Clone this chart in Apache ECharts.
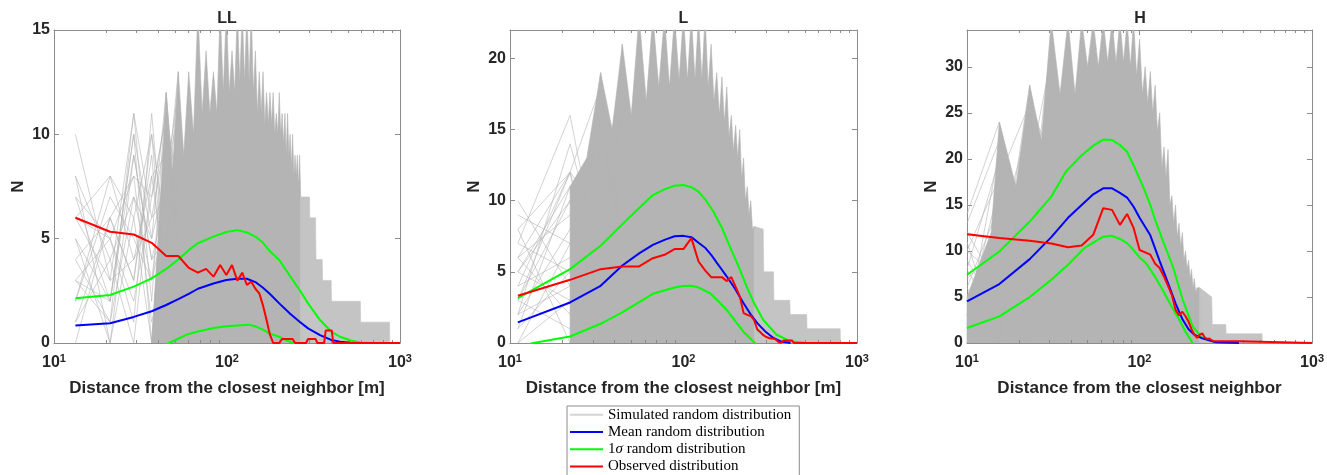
<!DOCTYPE html>
<html>
<head>
<meta charset="utf-8">
<title>Distance from the closest neighbor</title>
<script src="https://cdn.jsdelivr.net/npm/echarts@6/dist/echarts.min.js"></script>
<style>
  html, body { margin: 0; padding: 0; background: #fff; }
  #main { width: 1327px; height: 475px; }
</style>
</head>
<body>
<div id="main"></div>
<script>
// ---------- values ----------
var panelTitles = ['LL', 'L', 'H'];
var xNames = ['Distance from the closest neighbor [m]', 'Distance from the closest neighbor [m]', 'Distance from the closest neighbor'];
var yMaxes = [15, 22, 34];

// LL
var llLatticeBins = [13.3, 21.1, 28.9, 36.7, 44.5, 52.3];
var llLattice = [
  [10, 3, 11, 2, 12, 5], [8, 0, 9, 4, 7, 13], [7, 5, 1, 11, 3, 9], [6, 8, 4, 6, 10, 2],
  [5, 2, 10, 0, 8, 11], [4, 6, 3, 9, 1, 7], [3, 1, 7, 5, 12, 4], [2, 7, 5, 3, 6, 10],
  [1, 4, 0, 8, 9, 6], [0, 6, 8, 1, 4, 12], [5, 0, 6, 10, 2, 8], [3, 5, 2, 7, 11, 3],
  [7, 2, 9, 4, 5, 13], [2, 8, 6, 0, 10, 5], [6, 3, 4, 8, 3, 9], [4, 1, 11, 6, 7, 1],
  [8, 4, 7, 3, 9, 6], [1, 6, 3, 10, 5, 11], [6, 5, 8, 7, 11, 7], [3, 2, 10, 5, 8, 12]
];
var llSimTop = [
  [36.7, 0], [40.6, 6], [44.5, 12], [48.4, 8], [52.3, 13], [56.2, 9], [60.1, 13], [64, 10],
  [67.9, 16], [71.8, 11], [75.7, 14], [79.6, 11], [83.5, 13], [87.4, 11], [91.3, 16], [95.2, 12],
  [99.1, 16], [103, 12], [106.9, 14], [110.8, 12], [114.7, 16], [118.6, 12.5], [122.5, 16], [126.4, 12.5],
  [130.3, 16], [134.2, 12.5], [138.1, 16], [142, 12], [145.9, 14], [149.8, 11], [153.7, 13], [157.6, 11],
  [161.5, 13], [165.4, 10.5], [169.3, 12], [173.2, 10.5], [177.1, 12], [181, 10.5], [184.9, 12], [188.8, 10],
  [192.7, 11], [196.6, 10], [200.5, 12], [204.4, 10], [208.3, 11], [212.2, 9.5], [216.1, 11], [220, 9],
  [223.9, 11], [227.8, 9], [231.7, 10], [235.6, 8.5], [239.5, 10], [243.4, 8], [247.3, 9], [251.2, 8],
  [255.1, 9], [259, 7.5], [262.9, 9], [266.8, 7], [266.8, 0]
];
var llSimTail = [
  [266.8, 0], [266.8, 7], [300, 7], [301, 6], [325, 6], [327, 4], [355, 4], [357, 3],
  [400, 3], [402, 2], [590, 2], [592, 1], [870, 1], [872, 0]
];
var llMean = [
  [13.3, 0.84], [21.1, 0.95], [28.9, 1.25], [36.7, 1.52], [44.5, 1.82], [52.3, 2.1], [60.1, 2.35],
  [67.9, 2.6], [83.5, 2.85], [99.1, 3.02], [114.7, 3.08], [130.3, 3.08], [145.9, 2.92], [161.5, 2.65],
  [177.1, 2.35], [200.5, 1.9], [231.7, 1.4], [262.9, 1.02], [294.1, 0.7], [345, 0.38], [400, 0.15],
  [450, 0.06], [520, 0.01], [700, 0]
];
var llSigmaUp = [
  [13.3, 2.14], [21.1, 2.3], [28.9, 2.7], [36.7, 3.1], [44.5, 3.55], [52.3, 4.0], [60.1, 4.45],
  [67.9, 4.78], [83.5, 5.1], [99.1, 5.32], [114.7, 5.41], [130.3, 5.3], [145.9, 5.1], [161.5, 4.8],
  [177.1, 4.4], [200.5, 3.98], [231.7, 3.2], [262.9, 2.54], [294.1, 1.9], [345, 1.1], [400, 0.55],
  [450, 0.3], [520, 0.12], [590, 0.02], [700, 0]
];
var llSigmaLo = [
  [36.7, -0.3], [46.4, 0], [58.5, 0.4], [67.9, 0.55], [83.5, 0.72], [99.1, 0.8], [114.7, 0.84],
  [132.8, 0.88], [145.9, 0.8], [161.5, 0.64], [177.1, 0.45], [200, 0.3], [240, 0], [262.9, -0.15]
];
var llObserved = [
  [13.3, 6.0], [21.1, 5.33], [28.9, 5.2], [36.7, 4.8], [44.5, 4.17], [52.3, 4.17], [60.1, 3.6],
  [67.9, 3.37], [75.7, 3.55], [83.5, 3.18], [91.3, 3.74], [99.1, 3.26], [106.9, 3.74], [114.7, 2.99],
  [122.5, 3.37], [130.3, 2.78], [138.1, 2.94], [145.9, 2.6], [153.7, 2.38], [161.5, 1.8], [169.3, 1.1],
  [177.1, 0.4], [184.9, 0], [200.5, 0], [208.3, 0.19], [239.5, 0.19], [247.3, 0], [286.3, 0],
  [294.1, 0.19], [325.3, 0.19], [333.1, 0], [364.3, 0], [372.1, 0.6], [403.3, 0.6], [411.1, 0], [1000, 0]
];

// L
var lLatticeBins = [11.1, 22.2, 33.3, 44.4];
var lLattice = [
  [10, 4, 12, 6], [8, 12, 3, 15], [8, 0, 14, 9], [7, 16, 5, 12], [6, 2, 19, 4],
  [6, 9, 1, 21], [5, 11, 7, 2], [5, 3, 10, 14], [4, 12, 2, 17], [4, 6, 16, 8],
  [3, 10, 4, 11], [3, 1, 9, 19], [2, 8, 13, 5], [2, 14, 6, 10], [1, 5, 11, 3],
  [1, 11, 0, 13], [0, 7, 15, 7], [0, 3, 8, 16], [3, 12, 18, 1], [7, 5, 2, 12],
  [9, 7, 11, 18], [5, 10, 6, 9], [2, 4, 17, 13], [6, 12, 9, 20]
];
var lSimTop = [
  [22.2, 0], [22.2, 11], [27.7, 13], [33.3, 19], [38.8, 15], [44.4, 21], [50, 16], [55.5, 23],
  [61, 17], [66.6, 23], [72, 18], [77.7, 23], [83, 18], [88.8, 23], [94.3, 18.5], [99.9, 23],
  [105.4, 18.5], [111, 23], [116.5, 18.5], [122.1, 23], [127.6, 18.5], [133.2, 23], [138.7, 18], [144.3, 21],
  [149.8, 17], [155.4, 19], [161, 16], [166.5, 18.7], [172, 15.5], [177.6, 18], [183, 14.5], [188.7, 16],
  [194, 13.5], [199.8, 15.3], [205.3, 13], [210.9, 15], [216.4, 11.5], [222, 13], [227.5, 10], [233.1, 11],
  [238.6, 9], [244.2, 10], [249.7, 8], [255.3, 8.2], [255.3, 0]
];
var lSimTail = [
  [255.3, 0], [255.3, 8.2], [288, 8], [290, 5], [330, 5], [332, 3],
  [410, 3], [412, 2], [513, 2], [515, 1], [800, 1], [802, 0]
];
var lMean = [
  [11.1, 1.45], [22.2, 2.85], [33.3, 4.02], [44.4, 5.45], [55.5, 6.3], [66.6, 6.9], [77.7, 7.25],
  [88.8, 7.5], [99.9, 7.53], [111, 7.44], [122.1, 7.05], [133.2, 6.7], [144.3, 6.2], [155.4, 5.65],
  [166.5, 5.15], [177.6, 4.67], [188.7, 4.2], [199.8, 3.75], [210.9, 3.25], [222, 2.8], [244.2, 2.0],
  [266.4, 1.4], [277.5, 1.17], [299.7, 0.75], [330, 0.35], [366, 0.1], [414, 0]
];
var lSigmaUp = [
  [11.1, 3.16], [22.2, 5.19], [33.3, 6.83], [49.2, 8.88], [66.6, 10.4], [77.7, 10.8], [88.8, 11.05],
  [99.9, 11.1], [111, 10.95], [122.1, 10.64], [133.2, 10.1], [148.6, 9.24], [166.5, 8.1], [185, 6.78],
  [210.9, 5.2], [231, 3.97], [255.3, 2.8], [288, 1.63], [344, 0.58], [400, 0.2], [430, 0.11], [513, 0]
];
var lSigmaLo = [
  [11.1, -0.3], [13.6, 0], [22.2, 0.46], [33.3, 1.35], [44.4, 2.15], [66.6, 3.46], [88.8, 3.9],
  [99.9, 4.0], [111, 4.02], [122.1, 3.9], [142, 3.51], [160, 2.9], [177, 2.34], [200, 1.5],
  [221, 0.81], [258, 0], [280, -0.4]
];
var lObserved = [
  [11.1, 3.32], [22.2, 4.44], [33.3, 5.19], [44.4, 5.38], [55.5, 5.38], [66.6, 5.96], [77.7, 6.2],
  [88.8, 6.6], [99.9, 6.6], [111, 7.37], [122.1, 5.73], [133.2, 5.1], [144.3, 4.63], [155.4, 4.63],
  [166.5, 4.63], [177.6, 4.35], [188.7, 4.63], [199.8, 3.95], [210.9, 3.3], [222, 2.1], [233.1, 1.98],
  [244.2, 1.9], [255.3, 1.6], [266.4, 0.95], [277.5, 0.75], [288.6, 0.55], [299.7, 0.42], [310.8, 0.35],
  [321.9, 0.32], [333, 0.3], [344.1, 0.2], [355.2, 0.04], [366.3, 0.04], [377.4, 0.18], [421.8, 0.18],
  [432.9, 0], [1000, 0]
];

// H
var hLatticeBins = [10, 15.4, 23.1, 30.8];
var hLattice = [
  [14, 24, 10, 30], [12, 6, 28, 14], [13, 22, 4, 25], [11, 0, 18, 8], [10, 18, 26, 20],
  [9, 3, 12, 33], [8, 20, 6, 16], [7, 10, 22, 4], [6, 15, 0, 27], [5, 1, 16, 11],
  [4, 12, 24, 18], [3, 8, 2, 22], [2, 21, 14, 6], [1, 5, 20, 12], [0, 13, 8, 28],
  [6, 0, 25, 2], [10, 7, 11, 24], [3, 17, 5, 9], [8, 2, 19, 31], [12, 11, 1, 15]
];
var hSimTop = [
  [10, 0], [10, 5], [13.8, 12], [15.4, 24], [19.2, 17], [23.1, 28], [27, 22], [30.8, 35],
  [34.6, 27], [38.5, 35], [42.3, 27], [46.2, 35], [50, 30], [53.9, 35], [57.7, 30], [61.6, 35],
  [65.4, 30.5], [69.3, 35], [73.1, 30.5], [77, 35], [80.8, 30.5], [84.7, 35], [88.5, 30], [92.4, 35],
  [96.2, 29], [100.1, 33], [104, 27], [107.8, 30], [111.6, 26], [115.5, 29.5], [119.3, 25], [123.2, 28],
  [127, 23], [130.9, 25], [134.7, 19], [138.6, 21.3], [142.4, 18], [146.3, 21], [150.1, 15], [154, 16],
  [157.8, 13], [161.7, 15], [165.5, 11.5], [169.4, 13], [173.2, 10.5], [177.1, 12], [181, 9], [184.8, 10],
  [188.6, 8], [192.5, 9], [196.3, 7], [200.2, 8], [204, 6], [207.9, 7], [211.7, 5.5], [215.6, 6],
  [223.3, 6], [223.3, 0]
];
var hSimTail = [
  [223.3, 0], [223.3, 6], [262, 5], [264, 2], [316, 2], [318, 1], [513, 1], [515, 0]
];
var hMean = [
  [10, 4.51], [15.4, 6.4], [23.1, 9.11], [30.8, 11.5], [38.5, 13.6], [46.2, 15.0], [53.9, 16.15],
  [61.6, 16.8], [69.3, 16.8], [77, 16.3], [84.7, 15.8], [92.4, 14.8], [100.1, 13.6], [115.5, 11.7],
  [130.9, 8.9], [146.3, 6.5], [161.7, 4.3], [177.1, 2.6], [192.5, 1.5], [207.9, 0.9], [231, 0.5],
  [277, 0.07], [377, 0]
];
var hSigmaUp = [
  [10, 7.41], [15.4, 9.94], [23.1, 13.19], [30.8, 15.9], [37.4, 18.61], [46.2, 20.4], [54.6, 21.5],
  [61.6, 22.1], [69.3, 22.05], [77, 21.5], [84.7, 20.78], [92.4, 19.3], [103.7, 17.2], [115.5, 15.0],
  [124, 13.23], [138.6, 10.8], [156, 8.31], [178, 4.7], [203, 1.8], [232, 0.54], [277, 0.07], [377, 0]
];
var hSigmaLo = [
  [10, 1.63], [15.4, 2.89], [23.1, 4.99], [30.8, 6.87], [38.5, 8.5], [47.8, 10.3], [61.6, 11.55],
  [69.3, 11.64], [77, 11.3], [84.7, 10.85], [92.4, 10.1], [100.1, 9.3], [109, 8.68], [122, 7.3],
  [136, 5.78], [153, 4.0], [170, 2.53], [185, 1.2], [203, 0], [215, -0.8]
];
var hObserved = [
  [10, 11.82], [15.4, 11.4], [23.1, 11.1], [30.8, 10.8], [38.5, 10.4], [46.2, 10.6], [53.9, 11.75],
  [61.6, 14.64], [69.3, 14.46], [77, 12.83], [84.7, 14.02], [92.4, 12.5], [100.1, 10.1], [107.8, 9.85],
  [115.5, 9.6], [123.2, 8.6], [130.9, 8.15], [138.6, 7.2], [146.3, 6.2], [154, 5.2], [161.7, 3.6],
  [169.4, 3.0], [177.1, 3.4], [184.8, 2.9], [192.5, 2.3], [200.2, 1.5], [207.9, 0.9], [215.6, 0.55],
  [223.3, 0.9], [231, 1.05], [238.7, 0.6], [246.4, 0.45], [254.1, 0.5], [261.8, 0.3], [269.5, 0.2],
  [377, 0.2], [385, 0], [1000, 0]
];

var panels = [
  { bins: llLatticeBins, lattice: llLattice, simTop: llSimTop, simTail: llSimTail, mean: llMean, up: llSigmaUp, lo: llSigmaLo, obs: llObserved },
  { bins: lLatticeBins, lattice: lLattice, simTop: lSimTop, simTail: lSimTail, mean: lMean, up: lSigmaUp, lo: lSigmaLo, obs: lObserved },
  { bins: hLatticeBins, lattice: hLattice, simTop: hSimTop, simTail: hSimTail, mean: hMean, up: hSigmaUp, lo: hSigmaLo, obs: hObserved }
];

// minor log ticks (20..90, 200..900), placed on a helper axis running in log10 units
var minorTickValues = [20, 30, 40, 50, 60, 70, 80, 90, 200, 300, 400, 500, 600, 700, 800, 900];

// ---------- chart ----------
var SIM = 'Simulated random distribution';
var MEAN = 'Mean random distribution';
var SIGMA = '1σ random distribution';
var OBS = 'Observed distribution';

var textCol = '#262626';
var axisCol = '#8c8c8c';
var grayCol = '#b4b4b4';
var tailCol = '#c4c4c4';
var font = 'Liberation Sans';

var grids = [
  { left: 54, top: 30, width: 346, height: 313 },
  { left: 510, top: 30, width: 347, height: 313 },
  { left: 967, top: 30, width: 346, height: 313 }
];

var xAxes = [], yAxes = [], series = [], graphics = [];
var minorLog = minorTickValues.map(function (v) { return Math.log10(v); });

grids.forEach(function (g, i) {
  var tick = { show: true, inside: true, length: 5, lineStyle: { color: axisCol, width: 1 } };
  var line = { show: true, onZero: false, lineStyle: { color: axisCol, width: 1 } };
  // 4i: bottom log axis, 4i+1: top log axis, 4i+2 / 4i+3: minor tick helpers
  xAxes.push({
    gridIndex: i, type: 'log', logBase: 10, min: 10, max: 1000, position: 'bottom',
    name: xNames[i], nameLocation: 'middle', nameGap: 37,
    nameTextStyle: { color: textCol, fontFamily: font, fontWeight: 'bold', fontSize: 17 },
    axisLine: line, axisTick: tick, splitLine: { show: false },
    axisLabel: {
      margin: 10, color: textCol,
      formatter: function (v) { return '{b|10}{s|' + Math.round(Math.log10(v)) + '}'; },
      rich: {
        b: { fontFamily: font, fontWeight: 'bold', fontSize: 16, color: textCol },
        s: { fontFamily: font, fontWeight: 'bold', fontSize: 11, color: textCol, verticalAlign: 'top', padding: [0, 0, 8, 0] }
      }
    }
  });
  xAxes.push({
    gridIndex: i, type: 'log', logBase: 10, min: 10, max: 1000, position: 'top',
    axisLine: line, axisTick: tick, axisLabel: { show: false }, splitLine: { show: false }
  });
  ['bottom', 'top'].forEach(function (pos) {
    xAxes.push({
      gridIndex: i, type: 'value', min: 1, max: 3, position: pos, z: 3,
      axisLine: { show: false, onZero: false },
      axisTick: { show: true, inside: true, length: 3, customValues: minorLog, lineStyle: { color: axisCol, width: 1 } },
      axisLabel: { show: false }, splitLine: { show: false }
    });
  });
  yAxes.push({
    gridIndex: i, type: 'value', min: 0, max: yMaxes[i], interval: 5, position: 'left',
    name: 'N', nameLocation: 'middle', nameGap: 27,
    nameTextStyle: { color: textCol, fontFamily: font, fontWeight: 'bold', fontSize: 17 },
    axisLine: line, axisTick: tick, splitLine: { show: false },
    axisLabel: {
      margin: 4, color: textCol, fontFamily: font, fontWeight: 'bold', fontSize: 16,
      showMaxLabel: yMaxes[i] % 5 === 0
    }
  });
  yAxes.push({
    gridIndex: i, type: 'value', min: 0, max: yMaxes[i], interval: 5, position: 'right',
    axisLine: line, axisTick: tick, splitLine: { show: false }, axisLabel: { show: false }
  });

  graphics.push({
    type: 'text', x: g.left + g.width / 2, y: 19,
    style: { text: panelTitles[i], fill: textCol, font: 'bold 16px "Liberation Sans"', align: 'center', verticalAlign: 'middle' }
  });

  var p = panels[i];
  function mk(name, data, color, width, extra) {
    var s = {
      type: 'line', name: name, xAxisIndex: 4 * i, yAxisIndex: 2 * i, data: data,
      symbol: 'none', showSymbol: false, silent: true, animation: false, clip: true,
      lineStyle: { color: color, width: width }, itemStyle: { color: color }
    };
    for (var k in extra) s[k] = extra[k];
    return s;
  }
  // simulated runs: sparse lines on the left, dense mass as a filled envelope
  p.lattice.forEach(function (row) {
    series.push(mk(SIM, row.map(function (v, j) { return [p.bins[j], v]; }), grayCol, 0.6));
  });
  series.push(mk(SIM, p.simTop, grayCol, 0.6, { areaStyle: { color: grayCol, opacity: 1 } }));
  series.push(mk(SIM, p.simTail, tailCol, 0.6, { areaStyle: { color: tailCol, opacity: 1 } }));
  series.push(mk(SIGMA, p.up, '#00ff00', 2));
  series.push(mk(SIGMA, p.lo, '#00ff00', 2));
  series.push(mk(MEAN, p.mean, '#0000ff', 2));
  series.push(mk(OBS, p.obs, '#ff0000', 2));
});

var myChart = echarts.init(document.getElementById('main'), null, { renderer: 'canvas' });

var option = {
  backgroundColor: '#fff',
  animation: false,
  grid: grids,
  xAxis: xAxes,
  yAxis: yAxes,
  graphic: graphics,
  legend: {
    data: [
      { name: SIM, itemStyle: { color: '#d4d4d4' } },
      { name: MEAN }, { name: SIGMA }, { name: OBS }
    ],
    icon: 'rect',
    orient: 'vertical', left: 567, top: 406, height: 90,
    padding: [0, 8, 4, 3], itemGap: 0, itemWidth: 33, itemHeight: 2,
    backgroundColor: '#fff', borderColor: '#8c8c8c', borderWidth: 1, borderRadius: 0,
    selectedMode: false,
    textStyle: {
      fontFamily: 'Liberation Serif', fontSize: 15, color: '#000', lineHeight: 17.3,
      rich: { i: { fontFamily: 'Liberation Serif', fontSize: 15, fontStyle: 'italic', color: '#000' } }
    },
    formatter: function (name) { return name === SIGMA ? '1{i|σ} random distribution' : name; }
  },
  series: series
};

myChart.setOption(option);
</script>
</body>
</html>
